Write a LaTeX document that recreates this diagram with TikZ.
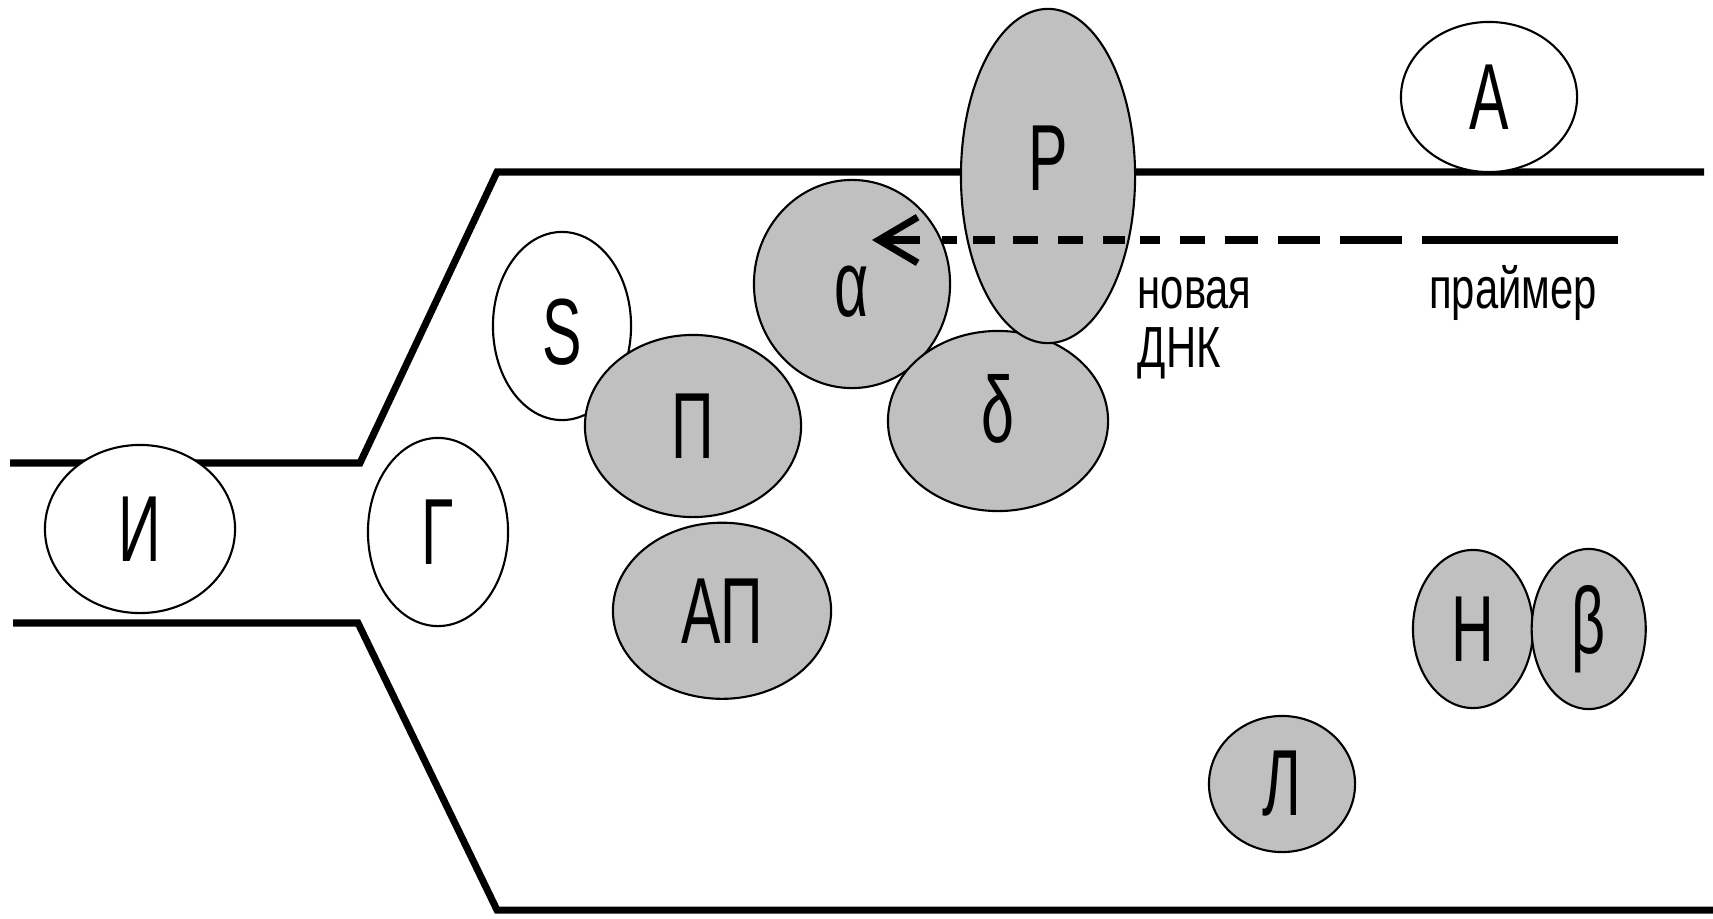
\documentclass[tikz,border=0pt]{standalone}
\usepackage{fontspec}
\usetikzlibrary{shapes.geometric, positioning, arrows.meta}
\newfontfamily\narrowsans[FakeStretch=0.63]{Liberation Sans}
\newfontfamily\labelsans[FakeStretch=0.72]{Liberation Sans}
\newcommand{\bigletters}{\narrowsans\fontsize{26.7pt}{30pt}\selectfont}
\newcommand{\smallletters}{\labelsans\fontsize{16.5pt}{19pt}\selectfont}
\definecolor{enzgrey}{RGB}{192,192,192}
\tikzset{
  enz/.style={ellipse, draw, line width=0.6pt, inner sep=0pt, font=\bigletters},
  free/.style={enz, fill=white},
  bound/.style={enz, fill=enzgrey},
  radii/.style 2 args={minimum width={#1*0.02cm}, minimum height={#2*0.02cm}},
  strand/.style={line width=2pt},
  lbl/.style={font=\smallletters, inner sep=0pt}
}

\begin{document}
\begin{tikzpicture}[x=0.01cm, y=-0.01cm]
  \useasboundingbox (0,0) rectangle (1713,918);
  % the two template strands of the fork
  \draw[strand] (10,463) -- (360,463) -- (497,172) -- (1704,172);
  \draw[strand] (13,623) -- (358,623) -- (497,910) -- (1713,910);

  \node[free, radii={95}{84}] (heli) at (140,529) {И};
  \node[free, radii={70}{94}] (gyr) at (438,532) {Г};
  \node[free, radii={69}{94}, text height=22pt] (ssb) at (562,326) {S};
  \node[free, radii={88}{75}] (A) at (1489,97) {А};
  \node[bound, radii={108}{91}] (prim) at (693,426) {П};
  \node[bound, radii={109}{88}, below=1pt of prim, xshift=29*0.01cm] (aprim) {АП};
  \node[bound, radii={98}{104}, text height=19pt] (alpha) at (852,284) {α};
  \node[bound, radii={110}{90}, text depth=7pt] (delta) at (998,421) {δ};
  \node[bound, radii={87}{167}, text depth=10pt] (R) at (1048,176) {Р};
  \node[bound, radii={60}{79}] (N) at (1473,629) {Н};
  \node[bound, radii={57}{80}, right=-1pt of N] (beta) {β};
  \node[bound, radii={73}{68}] (lig) at (1282,784) {Л};

  % new strand: dashes grow towards the primer
  \coordinate (tip) at (872,240);
  \coordinate (shaft) at (920,240);
  \draw[strand, -{Straight Barb[length=11pt, width=13pt]}] (shaft) -- (tip);
  \foreach \a/\b in {942/957, 973/995, 1013/1038, 1058/1083, 1103/1125,
                     1140/1160, 1180/1205, 1225/1258, 1278/1320, 1340/1402}
    \draw[strand] (\a,240) -- (\b,240);
  \coordinate (pstart) at (1422,240);
  \coordinate (pend) at (1618,240);
  \draw[strand] (pstart) -- (pend);

  \node[lbl, anchor=base west] (nova) at (1137,308) {новая};
  \node[lbl, anchor=base west] (dnk) at (1137,367) {ДНК};
  \node[lbl, anchor=base] (primer) at (1513,308) {праймер};
\end{tikzpicture}
\end{document}
